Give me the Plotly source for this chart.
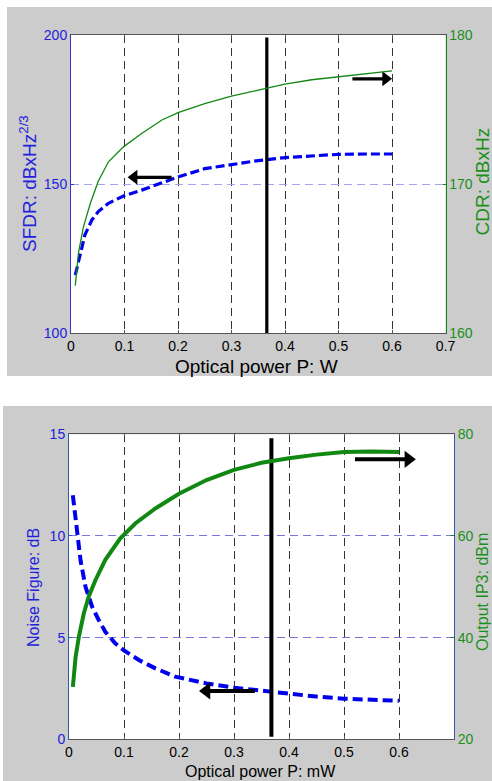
import plotly.graph_objects as go

# ---------------- data ----------------
# top panel: SFDR (left axis) and CDR (right axis) vs optical power (W)
sfdr_x = [0.008, 0.017, 0.026, 0.039, 0.051, 0.070, 0.098, 0.132, 0.176, 0.2, 0.25, 0.3, 0.35, 0.4, 0.45, 0.5, 0.55, 0.6]
sfdr_y = [119.5, 126.8, 133.0, 138.0, 140.8, 143.6, 146.0, 148.0, 150.8, 152.4, 155.2, 156.6, 157.9, 158.9, 159.5, 160.0, 160.1, 160.1]
cdr_x = [0.008, 0.014, 0.023, 0.036, 0.051, 0.070, 0.098, 0.132, 0.17, 0.2, 0.25, 0.3, 0.35, 0.4, 0.45, 0.5, 0.55, 0.6]
cdr_y = [163.2, 165.4, 167.1, 168.7, 170.2, 171.5, 172.5, 173.4, 174.3, 174.8, 175.4, 175.9, 176.3, 176.7, 177.0, 177.2, 177.4, 177.6]
top_marker_x = [0.366, 0.366]
top_marker_y = [99.6, 199.2]
top_arrow_left_x = [0.188, 0.118]      # tail, head
top_arrow_left_y = [152.3, 152.3]
top_arrow_right_x = [0.526, 0.588]
top_arrow_right_y = [185.3, 185.3]

# bottom panel: Noise figure (left axis) and Output IP3 (right axis) vs optical power (mW)
nf_x = [0.007, 0.015, 0.021, 0.030, 0.042, 0.054, 0.066, 0.084, 0.1, 0.127, 0.157, 0.193, 0.22, 0.25, 0.3, 0.35, 0.4, 0.45, 0.5, 0.55, 0.6]
nf_y = [12.0, 9.96, 8.8, 7.5, 6.52, 5.87, 5.29, 4.72, 4.37, 3.90, 3.49, 3.08, 2.92, 2.75, 2.54, 2.38, 2.22, 2.10, 2.0, 1.94, 1.89]
oip3_x = [0.007, 0.012, 0.018, 0.027, 0.036, 0.048, 0.066, 0.093, 0.121, 0.157, 0.2, 0.25, 0.3, 0.35, 0.4, 0.45, 0.5, 0.55, 0.6]
oip3_y = [30.3, 36.2, 40.2, 44.8, 48.1, 51.3, 55.3, 59.5, 62.5, 65.4, 68.3, 71.0, 73.0, 74.4, 75.3, 76.0, 76.5, 76.6, 76.5]
bot_marker_x = [0.368, 0.368]
bot_marker_y = [0.13, 14.8]
bot_arrow_left_x = [0.338, 0.25]
bot_arrow_left_y = [2.38, 2.38]
bot_arrow_right_x = [0.52, 0.617]
bot_arrow_right_y = [13.77, 13.77]

top_xticks = [0, 0.1, 0.2, 0.3, 0.4, 0.5, 0.6, 0.7]
top_xlabels = ["0", "0.1", "0.2", "0.3", "0.4", "0.5", "0.6", "0.7"]
bot_xticks = [0, 0.1, 0.2, 0.3, 0.4, 0.5, 0.6]
bot_xlabels = ["0", "0.1", "0.2", "0.3", "0.4", "0.5", "0.6"]
sfdr_ticks = [100, 150, 200]
cdr_ticks = [160, 170, 180]
nf_ticks = [0, 5, 10, 15]
oip3_ticks = [20, 40, 60, 80]

# ---------------- styling ----------------
W, H = 492, 781
FONT = "Liberation Sans, Arial, Helvetica, sans-serif"
BLUE = "#0000ee"
BLUE_TXT = "#2222dd"
GREEN = "#118811"
GREEN_TXT = "#1b8f1b"
GRAY_BG = "#cccccc"


def px(x):
    return x / W


def py(y):
    return 1 - y / H


fig = go.Figure()

# top traces
fig.add_trace(go.Scatter(x=sfdr_x, y=sfdr_y, mode="lines", xaxis="x", yaxis="y",
                         line=dict(color=BLUE, width=3.2, dash="9px,4px"), showlegend=False))
fig.add_trace(go.Scatter(x=cdr_x, y=cdr_y, mode="lines", xaxis="x", yaxis="y2",
                         line=dict(color=GREEN, width=1.3), showlegend=False))
fig.add_trace(go.Scatter(x=top_marker_x, y=top_marker_y, mode="lines", xaxis="x", yaxis="y",
                         line=dict(color="black", width=3.2), showlegend=False))

# bottom traces
fig.add_trace(go.Scatter(x=nf_x, y=nf_y, mode="lines", xaxis="x2", yaxis="y3",
                         line=dict(color=BLUE, width=4, dash="10px,5px"), showlegend=False))
fig.add_trace(go.Scatter(x=oip3_x, y=oip3_y, mode="lines", xaxis="x2", yaxis="y4",
                         line=dict(color=GREEN, width=4), showlegend=False))
fig.add_trace(go.Scatter(x=bot_marker_x, y=bot_marker_y, mode="lines", xaxis="x2", yaxis="y3",
                         line=dict(color="black", width=4), showlegend=False))

# arrows: shaft line + triangle head at the last point
arrows = [
    ("x", "y", top_arrow_left_x, top_arrow_left_y, "triangle-left", 3.2, 13),
    ("x", "y", top_arrow_right_x, top_arrow_right_y, "triangle-right", 3.2, 13),
    ("x2", "y3", bot_arrow_left_x, bot_arrow_left_y, "triangle-left", 4, 15),
    ("x2", "y3", bot_arrow_right_x, bot_arrow_right_y, "triangle-right", 4, 15),
]
for xa, ya, xs, ys, sym, w, ms in arrows:
    fig.add_trace(go.Scatter(x=xs, y=ys, mode="lines", xaxis=xa, yaxis=ya,
                             line=dict(color="black", width=w), showlegend=False))
    fig.add_trace(go.Scatter(x=xs[-1:], y=ys[-1:], mode="markers", xaxis=xa, yaxis=ya,
                             marker=dict(symbol=sym, size=ms, color="black",
                                         line=dict(width=0)),
                             showlegend=False))

common_x = dict(showgrid=True, gridcolor="#333333", gridwidth=1, griddash="8px,5px",
                showline=True, linecolor="#555555", linewidth=1, mirror="ticks",
                ticks="inside", ticklen=3, tickcolor="#555555", zeroline=False,
                automargin=False,
                tickfont=dict(family=FONT, size=14, color="black"), fixedrange=True)

fig.update_layout(
    width=W, height=H, margin=dict(l=0, r=0, t=0, b=0, pad=0, autoexpand=False),
    autosize=False,
    paper_bgcolor=GRAY_BG, plot_bgcolor="white", showlegend=False,
    font=dict(family=FONT),
    xaxis=dict(common_x, domain=[px(71), px(445.5)], anchor="y", range=[0, 0.7],
               tickvals=top_xticks, ticktext=top_xlabels),
    yaxis=dict(domain=[py(333.3), py(35)], anchor="x", range=[100, 200], automargin=False,
               tickvals=sfdr_ticks, showgrid=True, gridcolor="#a4a4ee", griddash="8px,5px",
               showline=True, linecolor="#3333cc", ticks="inside", ticklen=3, tickcolor="#3333cc",
               zeroline=False, tickfont=dict(family=FONT, size=14, color=BLUE_TXT)),
    yaxis2=dict(overlaying="y", side="right", anchor="x", range=[160, 180], automargin=False,
                tickvals=cdr_ticks, showgrid=False, showline=True, linecolor=GREEN,
                ticks="inside", ticklen=3, tickcolor=GREEN, zeroline=False,
                tickfont=dict(family=FONT, size=14, color=GREEN_TXT)),
    xaxis2=dict(common_x, domain=[px(69), px(454)], anchor="y3", range=[0, 0.7],
                tickvals=bot_xticks, ticktext=bot_xlabels),
    yaxis3=dict(domain=[py(739.3), py(434.3)], anchor="x2", range=[0, 15], automargin=False,
                tickvals=nf_ticks, showgrid=True, gridcolor="#7777e0", griddash="8px,5px",
                showline=True, linecolor="#3355aa", ticks="inside", ticklen=3, tickcolor="#3355aa",
                zeroline=False, tickfont=dict(family=FONT, size=14, color=BLUE_TXT)),
    yaxis4=dict(overlaying="y3", side="right", anchor="x2", range=[20, 80], automargin=False,
                tickvals=oip3_ticks, showgrid=False, showline=True, linecolor="#3355aa",
                ticks="inside", ticklen=3, tickcolor=GREEN, zeroline=False,
                tickfont=dict(family=FONT, size=14, color=GREEN_TXT)),
)

# white strips around the two grey figure panels
white_rects = [(0, 0, W, 7), (0, 0, 7, 376), (0, 376, W, 406), (0, 406, 3, H)]
for x0, y0, x1, y1 in white_rects:
    fig.add_shape(type="rect", xref="paper", yref="paper", x0=px(x0), x1=px(x1),
                  y0=py(y1), y1=py(y0), fillcolor="white", line=dict(width=0), layer="below")

# axis titles
titles = [
    ("Optical power P: W", 256.5, 366, 0, 19, "black"),
    ("SFDR: dBxHz<sup>2/3</sup>", 28, 184, -90, 19, BLUE_TXT),
    ("CDR: dBxHz", 481.5, 182, -90, 19, GREEN_TXT),
    ("Optical power P: mW", 260, 771, 0, 16, "black"),
    ("Noise Figure: dB", 33, 588, -90, 16, BLUE_TXT),
    ("Output IP3: dBm", 482, 592, -90, 16, GREEN_TXT),
]
for text, x, y, ang, size, col in titles:
    fig.add_annotation(text=text, x=px(x), y=py(y), xref="paper", yref="paper",
                       xanchor="center", yanchor="middle", textangle=ang, showarrow=False,
                       font=dict(family=FONT, size=size, color=col))

POST = (
    "document.documentElement.style.margin='0';"
    "document.documentElement.style.overflow='hidden';"
    "document.body.style.margin='0';"
    "document.body.style.overflow='hidden';"
    "var gd=document.querySelector('.plotly-graph-div');"
    "gd.style.position='fixed';gd.style.left='0px';gd.style.top='0px';"
)
fig.write_html("out.html", config={"displayModeBar": False}, post_script=POST)
